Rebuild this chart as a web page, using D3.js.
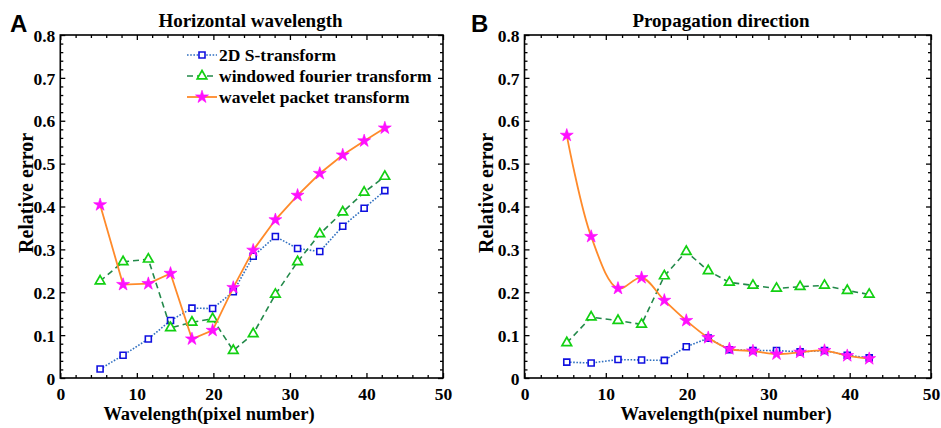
<!DOCTYPE html>
<html>
<head>
<meta charset="utf-8">
<script src="https://cdn.jsdelivr.net/npm/d3@7"></script>
<style>
  html, body { margin: 0; padding: 0; background: #fff; }
  svg { display: block; }
  .serif { font-family: "Liberation Serif", "Times New Roman", serif; font-weight: bold; fill: #000; }
  .sans { font-family: "Liberation Sans", Arial, sans-serif; font-weight: bold; fill: #000; }
</style>
</head>
<body>
<svg id="chart" width="941" height="428"></svg>
<script>
// Wavelength (pixel number) at which each method was evaluated
const wavelengths = [5.2, 8.2, 11.5, 14.4, 17.2, 19.9, 22.6, 25.2, 28.1, 31.0, 33.9, 36.9, 39.7, 42.4];

// Method names
const methods = ["2D S-transform", "windowed fourier transform", "wavelet packet transform"];

// Relative error of horizontal wavelength
const hwSTransform = [0.021, 0.053, 0.091, 0.134, 0.163, 0.162, 0.201, 0.284, 0.330, 0.302, 0.295, 0.354, 0.396, 0.437];
const hwWindowedFT = [0.226, 0.271, 0.277, 0.117, 0.130, 0.138, 0.064, 0.103, 0.195, 0.271, 0.336, 0.387, 0.433, 0.470];
const hwWaveletPT  = [0.404, 0.218, 0.220, 0.244, 0.091, 0.111, 0.211, 0.298, 0.369, 0.426, 0.477, 0.520, 0.553, 0.583];

// Relative error of propagation direction
const pdSTransform = [0.037, 0.035, 0.043, 0.042, 0.041, 0.073, 0.093, 0.066, 0.064, 0.064, 0.061, 0.064, 0.053, 0.047];
const pdWindowedFT = [0.082, 0.142, 0.134, 0.125, 0.238, 0.295, 0.250, 0.223, 0.216, 0.209, 0.213, 0.216, 0.204, 0.195];
const pdWaveletPT  = [0.566, 0.330, 0.209, 0.234, 0.181, 0.134, 0.094, 0.068, 0.063, 0.056, 0.060, 0.064, 0.052, 0.045];

// Axis ticks
const xTicks = [0, 10, 20, 30, 40, 50];
const yTicks = [0, 0.1, 0.2, 0.3, 0.4, 0.5, 0.6, 0.7, 0.8];
const xTickLabels = ["0", "10", "20", "30", "40", "50"];
const yTickLabels = ["0", "0.1", "0.2", "0.3", "0.4", "0.5", "0.6", "0.7", "0.8"];

const svg = d3.select("#chart");

const styles = [
  { line: "#2f6fc0", dash: "1.6,1.6", width: 1.6, symbol: d3.symbolSquare, size: 36, stroke: "#1010e0", fill: "#fff", mw: 1.6 },
  { line: "#23894a", dash: "6,4", width: 1.6, symbol: d3.symbolTriangle, size: 40, stroke: "#12d012", fill: "#fff", mw: 1.7 },
  { line: "#ff8a2a", dash: null, width: 1.8, symbol: d3.symbolStar, size: 52, stroke: "#ff00ff", fill: "#ff10ff", mw: 0.6 }
];

function panel(opts) {
  const { left, right, top, bottom, title, titleX, letter, letterX, labelX, xLabelX, series, curves, legend } = opts;
  const x = d3.scaleLinear().domain([0, 50]).range([left, right]);
  const y = d3.scaleLinear().domain([0, 0.8]).range([bottom, top]);
  const g = svg.append("g");

  const xMinor = d3.range(0, 50.01, 2).filter(v => v % 10 !== 0);
  const yMinor = d3.range(0, 41).map(i => i * 0.02).filter((v, i) => i % 5 !== 0);

  // Bottom axis with inward ticks
  const xb = g.append("g").attr("transform", `translate(0,${bottom})`)
    .call(d3.axisBottom(x).tickValues(xTicks).tickSize(-5).tickPadding(9)
      .tickFormat((d, i) => xTickLabels[i]));
  g.append("g").attr("transform", `translate(0,${bottom})`)
    .call(d3.axisBottom(x).tickValues(xMinor).tickSize(-3).tickFormat(""));
  // Top axis
  g.append("g").attr("transform", `translate(0,${top})`)
    .call(d3.axisTop(x).tickValues(xTicks).tickSize(-5).tickFormat(""));
  g.append("g").attr("transform", `translate(0,${top})`)
    .call(d3.axisTop(x).tickValues(xMinor).tickSize(-3).tickFormat(""));
  // Left axis
  const yl = g.append("g").attr("transform", `translate(${left},0)`)
    .call(d3.axisLeft(y).tickValues(yTicks).tickSize(-5).tickPadding(5)
      .tickFormat((d, i) => yTickLabels[i]));
  g.append("g").attr("transform", `translate(${left},0)`)
    .call(d3.axisLeft(y).tickValues(yMinor).tickSize(-3).tickFormat(""));
  // Right axis
  g.append("g").attr("transform", `translate(${right},0)`)
    .call(d3.axisRight(y).tickValues(yTicks).tickSize(-5).tickFormat(""));
  g.append("g").attr("transform", `translate(${right},0)`)
    .call(d3.axisRight(y).tickValues(yMinor).tickSize(-3).tickFormat(""));

  g.selectAll(".domain").remove();
  g.selectAll(".tick line").attr("stroke", "#000").attr("stroke-width", 1.3);
  g.selectAll(".tick text").attr("class", "serif").style("font-size", "17.5px");
  xb.selectAll(".tick text").attr("dy", "0.72em");
  yl.selectAll(".tick text").attr("dy", "0.35em");

  // Frame
  g.append("rect").attr("x", left).attr("y", top)
    .attr("width", right - left).attr("height", bottom - top)
    .attr("fill", "none").attr("stroke", "#000").attr("stroke-width", 1.6);

  // Series
  series.forEach((vals, si) => {
    const st = styles[si];
    const pts = wavelengths.map((w, i) => [w, vals[i]]);
    const line = d3.line().x(d => x(d[0])).y(d => y(d[1])).curve(curves[si]);
    g.append("path").attr("d", line(pts))
      .attr("fill", "none").attr("stroke", st.line).attr("stroke-width", st.width)
      .attr("stroke-dasharray", st.dash);
    g.selectAll(null).data(pts).enter().append("path")
      .attr("transform", d => `translate(${x(d[0])},${y(d[1])})`)
      .attr("d", d3.symbol().type(st.symbol).size(st.size))
      .attr("fill", st.fill).attr("stroke", st.stroke).attr("stroke-width", st.mw);
  });

  // Titles and labels
  svg.append("text").attr("class", "serif").attr("x", titleX).attr("y", 27)
    .attr("text-anchor", "middle").style("font-size", "19px").text(title);
  svg.append("text").attr("class", "sans").attr("x", letterX).attr("y", 32)
    .style("font-size", "24px").text(letter);
  svg.append("text").attr("class", "serif")
    .attr("x", xLabelX).attr("y", 420)
    .attr("text-anchor", "middle").style("font-size", "18.5px").text("Wavelength(pixel number)");
  svg.append("text").attr("class", "serif")
    .attr("transform", `translate(${labelX},193) rotate(-90)`)
    .attr("text-anchor", "middle")
    .style("font-size", "20px").text("Relative error");

  if (legend) {
    const lx0 = 187, lx1 = 217, ly = [55, 76, 97];
    methods.forEach((name, i) => {
      const st = styles[i];
      svg.append("line").attr("x1", lx0).attr("x2", lx1).attr("y1", ly[i]).attr("y2", ly[i])
        .attr("stroke", st.line).attr("stroke-width", st.width).attr("stroke-dasharray", st.dash);
      svg.append("path").attr("transform", `translate(${(lx0 + lx1) / 2},${ly[i]})`)
        .attr("d", d3.symbol().type(st.symbol).size(st.size))
        .attr("fill", st.fill).attr("stroke", st.stroke).attr("stroke-width", st.mw);
      svg.append("text").attr("class", "serif").attr("x", 219).attr("y", ly[i])
        .attr("dy", "0.35em").style("font-size", "17.5px").text(name);
    });
  }
}

panel({
  left: 60.3, right: 443, top: 35, bottom: 378,
  title: "Horizontal wavelength", titleX: 250.5,
  letter: "A", letterX: 10, labelX: 33, xLabelX: 209,
  series: [hwSTransform, hwWindowedFT, hwWaveletPT],
  curves: [d3.curveLinear, d3.curveLinear, d3.curveLinear],
  legend: true
});

panel({
  left: 524.5, right: 931, top: 35, bottom: 378,
  title: "Propagation direction", titleX: 721,
  letter: "B", letterX: 471, labelX: 493, xLabelX: 726,
  series: [pdSTransform, pdWindowedFT, pdWaveletPT],
  curves: [d3.curveLinear, d3.curveLinear, d3.curveCatmullRom.alpha(0.5)],
  legend: false
});
</script>
</body>
</html>
